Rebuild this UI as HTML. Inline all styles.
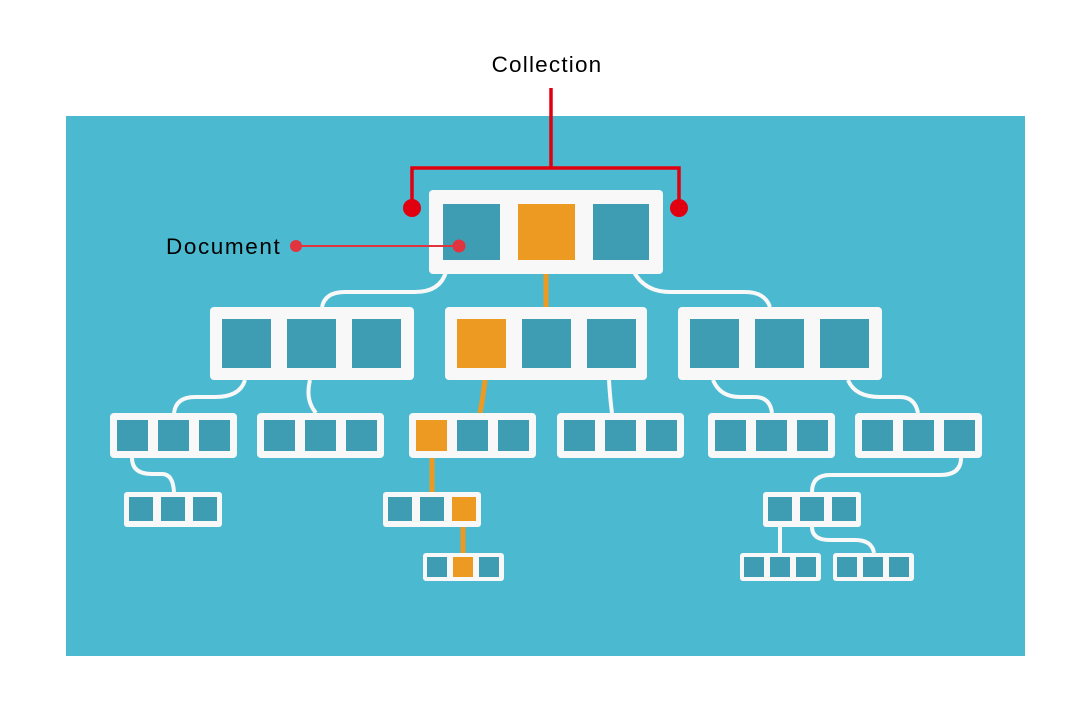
<!DOCTYPE html>
<html><head><style>body{margin:0;background:#fff}svg{display:block}</style></head><body>
<svg width="1082" height="708" xmlns="http://www.w3.org/2000/svg" font-family="Liberation Sans, sans-serif">
<rect x="66" y="116" width="959" height="540" fill="#4bbad1"/>
<g fill="none" stroke="#f8f8f8" stroke-width="4">
<path d="M446 272 Q440 292 415 292 L345 292 Q325 292 322 307"/>
<path d="M634 272 Q645 292 670 292 L745 292 Q765 292 770 307"/>
<path d="M245 380 Q240 397 215 397 L195 397 Q176 397 174 413"/>
<path d="M310 380 Q305 400 316 413"/>
<path d="M609 380 Q610 398 612 413"/>
<path d="M713 380 Q720 397 740 397 L755 397 Q770 397 772 413"/>
<path d="M848 380 Q855 397 880 397 L900 397 Q915 397 918 413"/>
<path d="M132 458 Q132 474 152 474 L162 474 Q173 474 174 492"/>
<path d="M961 458 Q961 475 940 475 L830 475 Q812 475 812 492"/>
<path d="M780 527 L780 553"/>
<path d="M812 527 Q812 540 830 540 L855 540 Q872 540 874 553"/>
</g>
<g stroke="#ec9a21" stroke-width="5" fill="none">
<path d="M546 272 L546 307"/><path d="M485 380 Q483 398 480 413"/><path d="M432 458 L432 492"/><path d="M463 527 L463 553"/>
</g>
<g fill="#f8f8f8">
<rect x="429" y="190" width="234" height="84" rx="4"/>
<rect x="210" y="307" width="204" height="73" rx="4"/><rect x="445" y="307" width="202" height="73" rx="4"/><rect x="678" y="307" width="204" height="73" rx="4"/>
<rect x="110" y="413" width="127" height="45" rx="4"/><rect x="257" y="413" width="127" height="45" rx="4"/><rect x="409" y="413" width="127" height="45" rx="4"/><rect x="557" y="413" width="127" height="45" rx="4"/><rect x="708" y="413" width="127" height="45" rx="4"/><rect x="855" y="413" width="127" height="45" rx="4"/>
<rect x="124" y="492" width="98" height="35" rx="3"/><rect x="383" y="492" width="98" height="35" rx="3"/><rect x="763" y="492" width="98" height="35" rx="3"/>
<rect x="423" y="553" width="81" height="28" rx="3"/><rect x="740" y="553" width="81" height="28" rx="3"/><rect x="833" y="553" width="81" height="28" rx="3"/>
</g>
<g fill="#3f9db3">
<rect x="443" y="204" width="57" height="56"/><rect x="593" y="204" width="56" height="56"/>
<rect x="222" y="319" width="49" height="49"/><rect x="287" y="319" width="49" height="49"/><rect x="352" y="319" width="49" height="49"/>
<rect x="522" y="319" width="49" height="49"/><rect x="587" y="319" width="49" height="49"/>
<rect x="690" y="319" width="49" height="49"/><rect x="755" y="319" width="49" height="49"/><rect x="820" y="319" width="49" height="49"/>
<rect x="117" y="420" width="31" height="31"/><rect x="158" y="420" width="31" height="31"/><rect x="199" y="420" width="31" height="31"/>
<rect x="264" y="420" width="31" height="31"/><rect x="305" y="420" width="31" height="31"/><rect x="346" y="420" width="31" height="31"/>
<rect x="457" y="420" width="31" height="31"/><rect x="498" y="420" width="31" height="31"/>
<rect x="564" y="420" width="31" height="31"/><rect x="605" y="420" width="31" height="31"/><rect x="646" y="420" width="31" height="31"/>
<rect x="715" y="420" width="31" height="31"/><rect x="756" y="420" width="31" height="31"/><rect x="797" y="420" width="31" height="31"/>
<rect x="862" y="420" width="31" height="31"/><rect x="903" y="420" width="31" height="31"/><rect x="944" y="420" width="31" height="31"/>
<rect x="129" y="497" width="24" height="24"/><rect x="161" y="497" width="24" height="24"/><rect x="193" y="497" width="24" height="24"/>
<rect x="388" y="497" width="24" height="24"/><rect x="420" y="497" width="24" height="24"/>
<rect x="768" y="497" width="24" height="24"/><rect x="800" y="497" width="24" height="24"/><rect x="832" y="497" width="24" height="24"/>
<rect x="427" y="557" width="20" height="20"/><rect x="479" y="557" width="20" height="20"/>
<rect x="744" y="557" width="20" height="20"/><rect x="770" y="557" width="20" height="20"/><rect x="796" y="557" width="20" height="20"/>
<rect x="837" y="557" width="20" height="20"/><rect x="863" y="557" width="20" height="20"/><rect x="889" y="557" width="20" height="20"/>
</g>
<g fill="#ec9a21">
<rect x="518" y="204" width="57" height="56"/><rect x="457" y="319" width="49" height="49"/><rect x="416" y="420" width="31" height="31"/><rect x="452" y="497" width="24" height="24"/><rect x="453" y="557" width="20" height="20"/>
</g>
<g stroke="#e00010" stroke-width="3.5" fill="none"><path d="M551 88 L551 168 M412 208 L412 168 L679 168 L679 208"/></g>
<circle cx="412" cy="208" r="9" fill="#e00010"/><circle cx="679" cy="208" r="9" fill="#e00010"/>
<path d="M296 246 L458 246" stroke="#e2343f" stroke-width="2"/>
<circle cx="296" cy="246" r="6" fill="#e2343f"/><circle cx="459" cy="246" r="6.5" fill="#e2343f"/>
<text x="547" y="72" font-size="22.5" letter-spacing="1.2" text-anchor="middle" fill="#000">Collection</text>
<text x="166" y="254" font-size="22.5" letter-spacing="1.6" fill="#000">Document</text>
</svg>
</body></html>
